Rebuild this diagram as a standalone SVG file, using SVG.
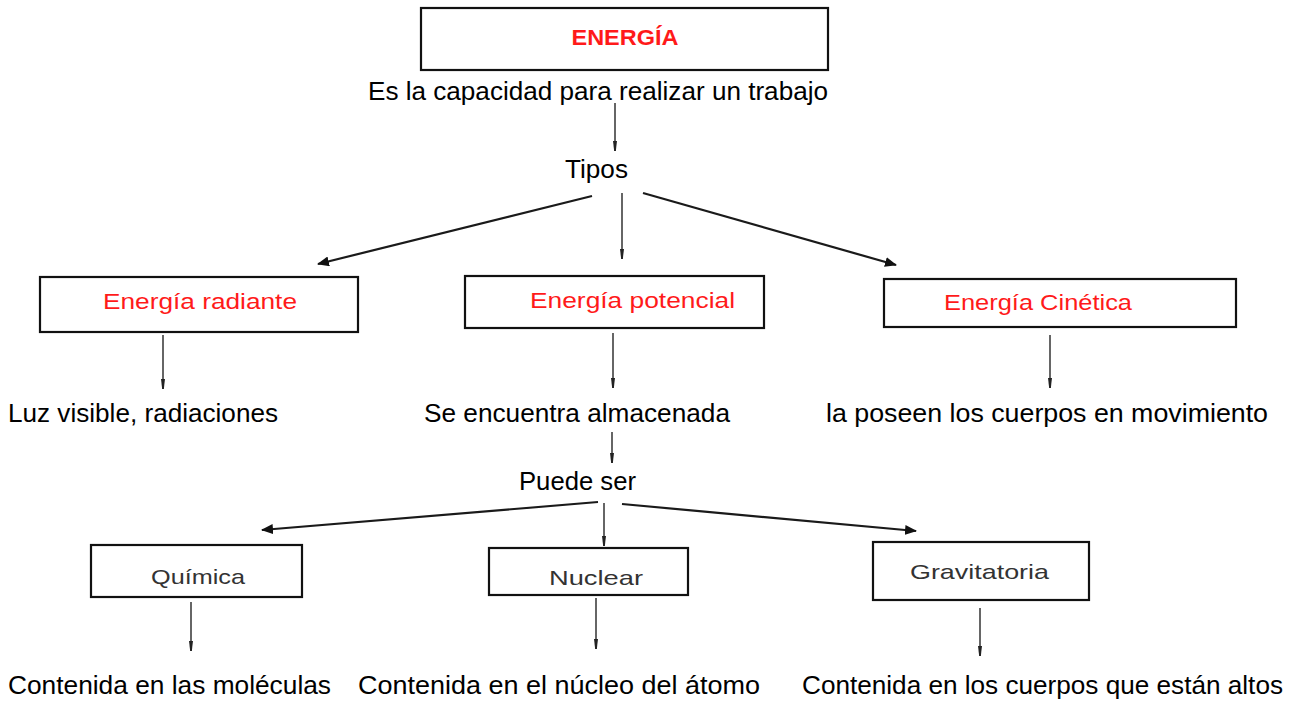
<svg xmlns="http://www.w3.org/2000/svg" width="1293" height="702" viewBox="0 0 1293 702">
<defs>
<style>
.box{fill:#fff;stroke:#111;stroke-width:2.2}
.t{font-family:"Liberation Sans",Arial,sans-serif;font-size:25px;fill:#000}
.r{font-family:"Liberation Sans",Arial,sans-serif;font-size:22px;fill:#ff1a1a}
.g{font-family:"Liberation Sans",Arial,sans-serif;font-size:21px;fill:#333}
.diag{stroke:#1a1a1a;stroke-width:2.2;fill:none;marker-end:url(#big)}
.vert{stroke:#333;stroke-width:1.5;fill:none;marker-end:url(#small)}
</style>
<marker id="big" viewBox="0 0 12 10" refX="11" refY="5" markerWidth="12" markerHeight="10" markerUnits="userSpaceOnUse" orient="auto">
<path d="M0,0 L12,5 L0,10 Z" fill="#111"/>
</marker>
<marker id="small" viewBox="0 0 10 4" refX="10" refY="2" markerWidth="10" markerHeight="4" markerUnits="userSpaceOnUse" orient="auto">
<path d="M0,0 L10,1.2 L10,2.8 L0,4 Z" fill="#222"/>
</marker>
</defs>
<rect width="1293" height="702" fill="#fff"/>
<g id="connectors">
<line class="vert" x1="615" y1="103" x2="615" y2="151"/>
<line class="diag" x1="592" y1="196" x2="318" y2="264"/>
<line class="vert" x1="622" y1="193" x2="622" y2="259"/>
<line class="diag" x1="643" y1="193" x2="896" y2="265"/>
<line class="vert" x1="163" y1="335" x2="163" y2="389"/>
<line class="vert" x1="613" y1="333" x2="613" y2="388"/>
<line class="vert" x1="1050" y1="335" x2="1050" y2="388"/>
<line class="vert" x1="612" y1="432" x2="612" y2="463"/>
<line class="diag" x1="598" y1="502" x2="262" y2="530"/>
<line class="vert" x1="604" y1="503" x2="604" y2="546"/>
<line class="diag" x1="622" y1="504" x2="916" y2="531"/>
<line class="vert" x1="191" y1="602" x2="191" y2="651"/>
<line class="vert" x1="596" y1="598" x2="596" y2="649"/>
<line class="vert" x1="980" y1="608" x2="980" y2="656"/>
</g>
<g id="energia">
<rect class="box" x="421" y="8" width="407" height="62"/>
<text class="r" x="625" y="45" text-anchor="middle" font-weight="bold" textLength="107" lengthAdjust="spacingAndGlyphs">ENERGÍA</text>
</g>
<g id="definicion">
<text class="t" x="368" y="100" textLength="460" lengthAdjust="spacingAndGlyphs">Es la capacidad para realizar un trabajo</text>
</g>
<g id="tipos">
<text class="t" x="565" y="178" textLength="63" lengthAdjust="spacingAndGlyphs">Tipos</text>
</g>
<g id="radiante">
<rect class="box" x="40" y="277" width="318" height="55"/>
<text class="r" x="103" y="309" textLength="194" lengthAdjust="spacingAndGlyphs">Energía radiante</text>
</g>
<g id="potencial">
<rect class="box" x="465" y="276" width="299" height="52"/>
<text class="r" x="530" y="308" textLength="205" lengthAdjust="spacingAndGlyphs">Energía potencial</text>
</g>
<g id="cinetica">
<rect class="box" x="884" y="279" width="352" height="48"/>
<text class="r" x="944" y="310" textLength="188" lengthAdjust="spacingAndGlyphs">Energía Cinética</text>
</g>
<g id="luz">
<text class="t" x="8" y="422" textLength="270" lengthAdjust="spacingAndGlyphs">Luz visible, radiaciones</text>
</g>
<g id="almacenada">
<text class="t" x="424" y="422" textLength="306" lengthAdjust="spacingAndGlyphs">Se encuentra almacenada</text>
</g>
<g id="movimiento">
<text class="t" x="826" y="422" textLength="442" lengthAdjust="spacingAndGlyphs">la poseen los cuerpos en movimiento</text>
</g>
<g id="puede-ser">
<text class="t" x="519" y="490" textLength="117" lengthAdjust="spacingAndGlyphs">Puede ser</text>
</g>
<g id="quimica">
<rect class="box" x="91" y="545" width="211" height="52"/>
<text class="g" x="151" y="584" textLength="94" lengthAdjust="spacingAndGlyphs">Química</text>
</g>
<g id="nuclear">
<rect class="box" x="489" y="548" width="199" height="47"/>
<text class="g" x="549" y="585" textLength="94" lengthAdjust="spacingAndGlyphs">Nuclear</text>
</g>
<g id="gravitatoria">
<rect class="box" x="873" y="542" width="216" height="58"/>
<text class="g" x="910" y="579" textLength="139" lengthAdjust="spacingAndGlyphs">Gravitatoria</text>
</g>
<g id="moleculas">
<text class="t" x="8" y="694" textLength="323" lengthAdjust="spacingAndGlyphs">Contenida en las moléculas</text>
</g>
<g id="nucleo">
<text class="t" x="358" y="694" textLength="402" lengthAdjust="spacingAndGlyphs">Contenida en el núcleo del átomo</text>
</g>
<g id="altos">
<text class="t" x="802" y="694" textLength="481" lengthAdjust="spacingAndGlyphs">Contenida en los cuerpos que están altos</text>
</g>
</svg>
